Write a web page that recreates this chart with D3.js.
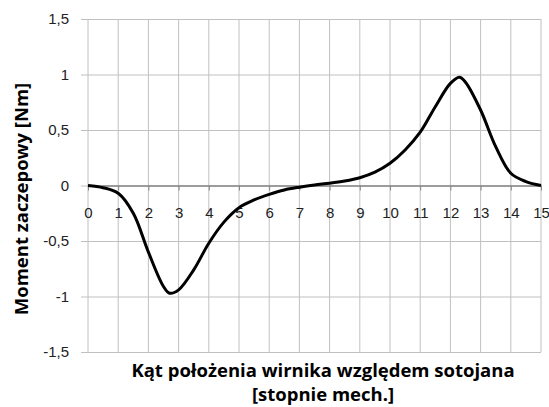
<!DOCTYPE html>
<html>
<head>
<meta charset="utf-8">
<script src="https://cdn.jsdelivr.net/npm/d3@7"></script>
<style>
  body { margin: 0; background: #fff; }
  svg { display: block; font-family: "Open Sans", Lato, sans-serif; }
</style>
</head>
<body>
<div id="chart"></div>
<script>
// angle [deg mech.] and cogging torque [Nm]
const angle = [0, 0.5, 1, 1.5, 2, 2.5, 2.7, 3, 3.5, 4, 4.5, 5, 5.5, 6, 6.5, 7, 7.5, 8, 8.5, 9, 9.5, 10, 10.5, 11, 11.5, 12, 12.3, 12.5, 13, 13.5, 14, 14.5, 15];
const torque = [0, -0.02, -0.07, -0.25, -0.6, -0.91, -0.97, -0.94, -0.76, -0.52, -0.33, -0.2, -0.13, -0.08, -0.04, -0.015, 0.005, 0.02, 0.04, 0.07, 0.12, 0.2, 0.32, 0.48, 0.71, 0.92, 0.975, 0.93, 0.68, 0.35, 0.11, 0.035, 0];
const xTicks = d3.range(0, 16);
const yTicks = [-1.5, -1, -0.5, 0, 0.5, 1, 1.5];

const width = 549, height = 407;
const svg = d3.select("#chart").append("svg")
  .attr("width", width)
  .attr("height", height);

const x = d3.scaleLinear().domain([0, 15]).range([88, 541]);
const y = d3.scaleLinear().domain([-1.5, 1.5]).range([352, 19]);
const fmt = d => String(d).replace(".", ",");

// horizontal grid + left ticks
svg.append("g")
  .attr("transform", `translate(${x(0)},0)`)
  .call(d3.axisLeft(y).tickValues(yTicks).tickSize(-(x(15) - x(0))).tickSizeOuter(0).tickFormat(fmt))
  .call(g => g.select(".domain").remove())
  .call(g => g.selectAll(".tick line").attr("stroke", "#c0c0c0").attr("x1", -7))
  .call(g => g.selectAll(".tick text").attr("x", -19).style("font-size", "15px").attr("fill", "#222"));

// vertical grid
svg.append("g")
  .selectAll("line")
  .data(xTicks)
  .enter()
  .append("line")
  .attr("x1", d => x(d)).attr("x2", d => x(d))
  .attr("y1", y(1.5)).attr("y2", y(-1.5))
  .attr("stroke", "#c0c0c0");

// zero axis with ticks and labels
svg.append("g")
  .attr("transform", `translate(0,${y(0)})`)
  .call(d3.axisBottom(x).tickValues(xTicks).tickSize(5).tickSizeOuter(0).tickFormat(d => d))
  .call(g => g.select(".domain").attr("stroke", "#868686").attr("stroke-width", 1.5))
  .call(g => g.selectAll(".tick line").attr("stroke", "#868686"))
  .call(g => g.selectAll(".tick text").attr("y", 32).attr("dy", 0).style("font-size", "15px").attr("fill", "#222"));

// curve
const line = d3.line()
  .x((d, i) => x(angle[i]))
  .y(d => y(d))
  .curve(d3.curveCatmullRom.alpha(0.5));

svg.append("path")
  .datum(torque)
  .attr("d", line)
  .attr("fill", "none")
  .attr("stroke", "#000")
  .attr("stroke-width", 3);

// axis titles
svg.append("text")
  .attr("transform", `translate(22,199) rotate(-90)`)
  .attr("text-anchor", "middle")
  .attr("dy", "0.35em")
  .style("font-size", "18.5px")
  .style("font-weight", "bold")
  .text("Moment  zaczepowy [Nm]");

svg.append("text")
  .attr("x", 323).attr("y", 377)
  .attr("text-anchor", "middle")
  .style("font-size", "18.5px")
  .style("font-weight", "bold")
  .text("Kąt położenia wirnika względem sotojana");

svg.append("text")
  .attr("x", 323).attr("y", 401)
  .attr("text-anchor", "middle")
  .style("font-size", "18.5px")
  .style("font-weight", "bold")
  .text("[stopnie mech.]");
</script>
</body>
</html>
